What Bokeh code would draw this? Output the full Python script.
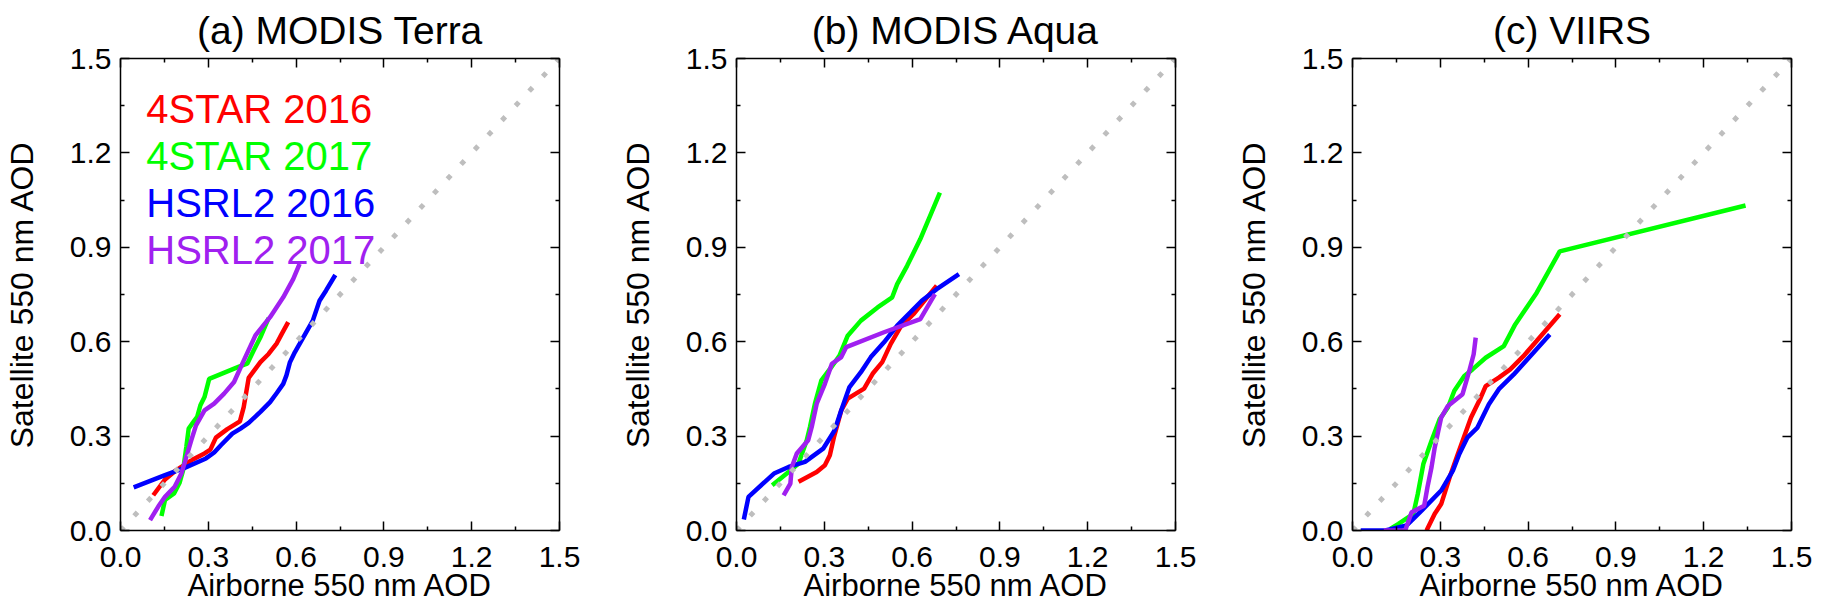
from bokeh.plotting import figure
from bokeh.layouts import row
from bokeh.models import FixedTicker, LinearAxis, Label, Range1d, PrintfTickFormatter, Title
from bokeh.embed import file_html
from bokeh.resources import INLINE

FONT = "Liberation Sans"

# ---------------- data ----------------
SERIES = ["4STAR 2016", "4STAR 2017", "HSRL2 2016", "HSRL2 2017"]
COLORS = ["#FF0000", "#00FF00", "#0000FF", "#A020F0"]
PANEL_TITLES = ["(a) MODIS Terra", "(b) MODIS Aqua", "(c) VIIRS"]
ONE_TO_ONE = [0.0, 1.5]
MAJOR_TICKS = [0.0, 0.3, 0.6, 0.9, 1.2, 1.5]
MINOR_TICKS = [0.15, 0.45, 0.75, 1.05, 1.35]
AXIS_RANGE = (0.0, 1.5)

# (a) MODIS Terra
A_4STAR16_X = [0.112, 0.152, 0.191, 0.242, 0.287, 0.307, 0.326, 0.365, 0.408, 0.421, 0.438, 0.478, 0.506, 0.534, 0.551, 0.573]
A_4STAR16_Y = [0.112, 0.162, 0.192, 0.223, 0.245, 0.257, 0.295, 0.322, 0.347, 0.392, 0.485, 0.535, 0.561, 0.595, 0.625, 0.662]
A_4STAR17_X = [0.140, 0.152, 0.183, 0.202, 0.214, 0.225, 0.233, 0.253, 0.262, 0.273, 0.287, 0.303, 0.405, 0.433, 0.455, 0.478, 0.506]
A_4STAR17_Y = [0.046, 0.097, 0.118, 0.152, 0.192, 0.266, 0.324, 0.350, 0.361, 0.398, 0.424, 0.482, 0.521, 0.530, 0.572, 0.614, 0.675]
A_HSRL16_X = [0.045, 0.152, 0.219, 0.292, 0.320, 0.343, 0.382, 0.410, 0.438, 0.478, 0.511, 0.534, 0.556, 0.567, 0.579, 0.596, 0.612, 0.641, 0.657, 0.680, 0.702, 0.734]
A_HSRL16_Y = [0.137, 0.176, 0.199, 0.229, 0.248, 0.271, 0.308, 0.324, 0.342, 0.377, 0.408, 0.437, 0.466, 0.493, 0.535, 0.567, 0.593, 0.641, 0.667, 0.730, 0.762, 0.812]
A_HSRL17_X = [0.101, 0.129, 0.152, 0.185, 0.208, 0.225, 0.242, 0.258, 0.287, 0.320, 0.354, 0.388, 0.421, 0.461, 0.511, 0.556, 0.590, 0.612]
A_HSRL17_Y = [0.033, 0.076, 0.107, 0.139, 0.181, 0.234, 0.287, 0.334, 0.382, 0.403, 0.435, 0.472, 0.540, 0.620, 0.678, 0.741, 0.799, 0.847]

# (b) MODIS Aqua
B_4STAR16_X = [0.212, 0.274, 0.302, 0.319, 0.333, 0.358, 0.380, 0.436, 0.465, 0.498, 0.527, 0.560, 0.605, 0.684]
B_4STAR16_Y = [0.155, 0.186, 0.207, 0.239, 0.297, 0.382, 0.419, 0.451, 0.498, 0.535, 0.593, 0.646, 0.688, 0.778]
B_4STAR17_X = [0.122, 0.178, 0.212, 0.240, 0.251, 0.268, 0.290, 0.324, 0.352, 0.380, 0.425, 0.482, 0.532, 0.549, 0.583, 0.628, 0.695]
B_4STAR17_Y = [0.144, 0.186, 0.213, 0.287, 0.329, 0.403, 0.477, 0.519, 0.556, 0.619, 0.667, 0.709, 0.741, 0.783, 0.841, 0.926, 1.074]
B_HSRL16_X = [0.025, 0.041, 0.128, 0.178, 0.234, 0.296, 0.335, 0.358, 0.386, 0.425, 0.459, 0.504, 0.549, 0.594, 0.633, 0.684, 0.760]
B_HSRL16_Y = [0.035, 0.107, 0.181, 0.202, 0.218, 0.260, 0.318, 0.382, 0.456, 0.503, 0.551, 0.598, 0.651, 0.693, 0.730, 0.767, 0.815]
B_HSRL17_X = [0.161, 0.184, 0.189, 0.206, 0.245, 0.257, 0.274, 0.302, 0.326, 0.358, 0.375, 0.504, 0.628, 0.678]
B_HSRL17_Y = [0.112, 0.149, 0.202, 0.245, 0.287, 0.329, 0.403, 0.466, 0.530, 0.551, 0.583, 0.630, 0.672, 0.751]

# (c) VIIRS
C_4STAR16_X = [0.253, 0.281, 0.303, 0.332, 0.360, 0.405, 0.438, 0.455, 0.500, 0.539, 0.584, 0.629, 0.708]
C_4STAR16_Y = [0.000, 0.053, 0.084, 0.169, 0.243, 0.359, 0.422, 0.459, 0.486, 0.512, 0.554, 0.602, 0.687]
C_4STAR17_X = [0.129, 0.157, 0.208, 0.223, 0.242, 0.270, 0.298, 0.326, 0.348, 0.382, 0.410, 0.455, 0.517, 0.556, 0.629, 0.708, 1.343]
C_4STAR17_Y = [0.005, 0.021, 0.053, 0.116, 0.211, 0.285, 0.354, 0.391, 0.444, 0.491, 0.512, 0.549, 0.586, 0.655, 0.755, 0.887, 1.033]
C_HSRL16_X = [0.028, 0.112, 0.185, 0.236, 0.303, 0.343, 0.365, 0.393, 0.427, 0.466, 0.500, 0.551, 0.618, 0.674]
C_HSRL16_Y = [0.000, 0.000, 0.016, 0.063, 0.127, 0.190, 0.243, 0.296, 0.327, 0.401, 0.449, 0.496, 0.565, 0.623]
C_HSRL17_X = [0.107, 0.180, 0.202, 0.245, 0.256, 0.270, 0.281, 0.303, 0.326, 0.376, 0.399, 0.414, 0.421]
C_HSRL17_Y = [0.000, 0.000, 0.058, 0.079, 0.137, 0.201, 0.264, 0.359, 0.396, 0.433, 0.507, 0.560, 0.613]

PANELS = [
    [(A_4STAR16_X, A_4STAR16_Y), (A_4STAR17_X, A_4STAR17_Y), (A_HSRL16_X, A_HSRL16_Y), (A_HSRL17_X, A_HSRL17_Y)],
    [(B_4STAR16_X, B_4STAR16_Y), (B_4STAR17_X, B_4STAR17_Y), (B_HSRL16_X, B_HSRL16_Y), (B_HSRL17_X, B_HSRL17_Y)],
    [(C_4STAR16_X, C_4STAR16_Y), (C_4STAR17_X, C_4STAR17_Y), (C_HSRL16_X, C_HSRL16_Y), (C_HSRL17_X, C_HSRL17_Y)],
]

X_LABEL = "Airborne 550 nm AOD"
Y_LABEL = "Satellite 550 nm AOD"

# ---------------- layout / style ----------------
FIG_H = 611
FRAME_W = 444
BORDER_L, BORDER_T, BORDER_B = 115, 57, 81
FIG_WIDTHS = [616, 616, 593]
LEGEND_X = 0.088
LEGEND_Y = [1.341, 1.190, 1.042, 0.892]


def style_axis(ax, labels, size="30px", standoff=9):
    ax.ticker = FixedTicker(ticks=MAJOR_TICKS, minor_ticks=MINOR_TICKS)
    ax.formatter = PrintfTickFormatter(format="%.1f")
    ax.axis_line_color = "black"
    ax.axis_line_width = 1.5
    ax.major_tick_in = 9
    ax.major_tick_out = 0
    ax.minor_tick_in = 4
    ax.minor_tick_out = 0
    ax.major_tick_line_color = "black"
    ax.major_tick_line_width = 1.5
    ax.minor_tick_line_color = "black"
    ax.minor_tick_line_width = 1.5
    if labels:
        ax.major_label_text_font = FONT
        ax.major_label_text_font_size = size
        ax.major_label_text_color = "black"
        ax.major_label_standoff = standoff
    else:
        ax.major_label_text_font_size = "1px"
        ax.major_label_text_color = None
        ax.major_label_standoff = 0


figs = []
for i, (title, curves) in enumerate(zip(PANEL_TITLES, PANELS)):
    w = FIG_WIDTHS[i]
    p = figure(width=w, height=FIG_H, x_range=Range1d(*AXIS_RANGE), y_range=Range1d(*AXIS_RANGE),
               output_backend="svg", toolbar_location=None,
               min_border_left=BORDER_L, min_border_right=w - BORDER_L - FRAME_W,
               min_border_top=BORDER_T, min_border_bottom=BORDER_B)
    p.title = Title(text=title, align="center", text_font=FONT, text_font_size="39px",
                    text_font_style="normal", text_color="black", standoff=13)
    p.xgrid.visible = False
    p.ygrid.visible = False
    p.outline_line_color = None
    p.background_fill_color = "white"
    p.border_fill_color = "white"

    xa = p.xaxis[0]
    style_axis(xa, True, "30px", 16)
    xa.axis_label = X_LABEL
    xa.axis_label_text_font = FONT
    xa.axis_label_text_font_size = "31px"
    xa.axis_label_text_font_style = "normal"
    xa.axis_label_text_color = "black"
    xa.axis_label_standoff = -2

    ya = p.yaxis[0]
    style_axis(ya, True, "30px", 9)
    ya.axis_label = Y_LABEL
    ya.axis_label_text_font = FONT
    ya.axis_label_text_font_size = "32px"
    ya.axis_label_text_font_style = "normal"
    ya.axis_label_text_color = "black"
    ya.axis_label_standoff = 27

    top = LinearAxis()
    style_axis(top, False)
    p.add_layout(top, "above")
    right = LinearAxis()
    style_axis(right, False)
    p.add_layout(right, "right")

    for (xs, ys), color in zip(curves, COLORS):
        p.line(xs, ys, line_color=color, line_width=4.5)
    p.line(ONE_TO_ONE, ONE_TO_ONE, line_color="#BEBEBE", line_width=5, line_dash="5 15")

    if i == 0:
        for name, color, ly in zip(SERIES, COLORS, LEGEND_Y):
            p.add_layout(Label(x=LEGEND_X, y=ly, text=name, text_align="left",
                               text_baseline="alphabetic", text_font=FONT,
                               text_font_size="40px", text_color=color))
    figs.append(p)

layout = row(*figs)
open("out.html", "w").write(file_html(layout, INLINE))
